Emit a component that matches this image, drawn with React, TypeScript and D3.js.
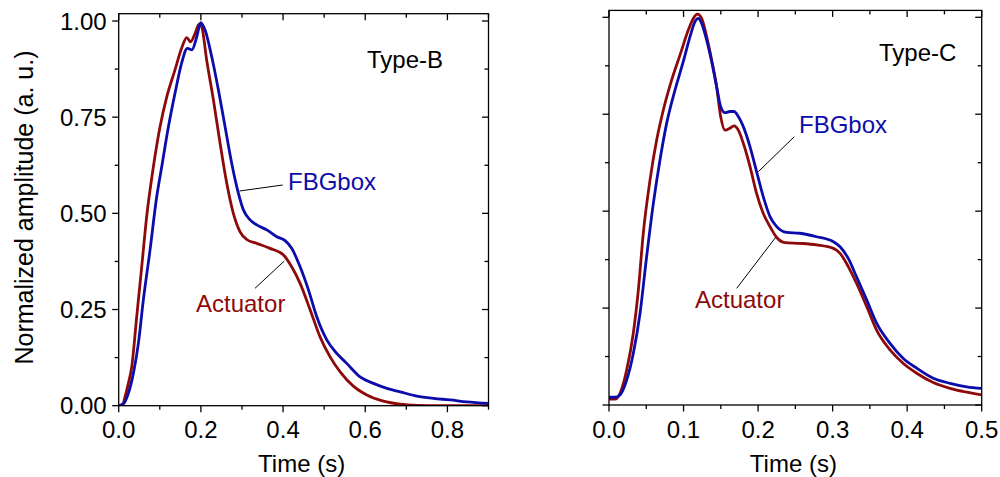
import React from "react";
import * as d3 from "d3";

// ---- Data ----
// Panel B (Type-B)
const tB_act = [0, 0.01, 0.0154, 0.0235, 0.0317, 0.0438, 0.056, 0.068, 0.0844, 0.1006, 0.117, 0.137, 0.153, 0.1655, 0.175, 0.186, 0.1956, 0.202, 0.214, 0.2305, 0.2467, 0.263, 0.279, 0.2954, 0.3116, 0.336, 0.368, 0.401, 0.421, 0.4415, 0.466, 0.49, 0.5145, 0.539, 0.571, 0.604, 0.644, 0.685, 0.7255, 0.78, 0.9];
const vB_act = [0, 0.004, 0.023, 0.058, 0.101, 0.231, 0.361, 0.491, 0.621, 0.725, 0.803, 0.873, 0.929, 0.957, 0.946, 0.968, 0.992, 0.985, 0.899, 0.795, 0.682, 0.578, 0.5, 0.452, 0.432, 0.422, 0.409, 0.392, 0.361, 0.318, 0.249, 0.179, 0.127, 0.088, 0.051, 0.028, 0.012, 0.004, 0.001, 0, 0];
const tB_fbg = [0, 0.011, 0.0235, 0.0357, 0.0479, 0.06, 0.0763, 0.0925, 0.1047, 0.121, 0.137, 0.153, 0.167, 0.178, 0.19, 0.1996, 0.21, 0.2264, 0.2426, 0.2589, 0.275, 0.2913, 0.3035, 0.3197, 0.336, 0.3603, 0.3847, 0.405, 0.421, 0.4415, 0.4618, 0.482, 0.5064, 0.5307, 0.555, 0.5875, 0.62, 0.6525, 0.685, 0.7255, 0.766, 0.8067, 0.847, 0.9];
const vB_fbg = [0, 0.004, 0.032, 0.084, 0.162, 0.275, 0.405, 0.543, 0.621, 0.725, 0.812, 0.89, 0.929, 0.925, 0.959, 0.996, 0.977, 0.907, 0.821, 0.725, 0.63, 0.552, 0.509, 0.483, 0.47, 0.457, 0.439, 0.429, 0.409, 0.361, 0.301, 0.231, 0.171, 0.136, 0.11, 0.075, 0.058, 0.045, 0.036, 0.025, 0.019, 0.015, 0.01, 0.006];

// Panel C (Type-C)
const tC_act = [0, 0.008, 0.0148, 0.0237, 0.0326, 0.0394, 0.046, 0.055, 0.064, 0.0729, 0.084, 0.0953, 0.1064, 0.1131, 0.1185, 0.1243, 0.131, 0.1377, 0.1444, 0.1498, 0.1556, 0.1623, 0.1677, 0.1735, 0.1802, 0.1892, 0.198, 0.207, 0.216, 0.225, 0.236, 0.256, 0.2786, 0.301, 0.31, 0.321, 0.332, 0.3457, 0.359, 0.377, 0.3949, 0.4128, 0.435, 0.4575, 0.48, 0.5];
const vC_act = [0.015, 0.015, 0.03, 0.09, 0.185, 0.297, 0.443, 0.58, 0.684, 0.761, 0.838, 0.903, 0.967, 0.997, 1.008, 0.997, 0.95, 0.89, 0.821, 0.744, 0.709, 0.714, 0.72, 0.709, 0.675, 0.615, 0.546, 0.494, 0.46, 0.432, 0.419, 0.417, 0.413, 0.404, 0.391, 0.357, 0.314, 0.254, 0.193, 0.142, 0.107, 0.082, 0.058, 0.043, 0.033, 0.026];
const tC_fbg = [0, 0.008, 0.0148, 0.0237, 0.0326, 0.0416, 0.0505, 0.0595, 0.0684, 0.0774, 0.0885, 0.0997, 0.1087, 0.1154, 0.1198, 0.1243, 0.131, 0.1377, 0.1444, 0.1498, 0.1556, 0.1623, 0.1677, 0.1735, 0.1802, 0.1892, 0.198, 0.207, 0.216, 0.225, 0.2384, 0.256, 0.2786, 0.301, 0.31, 0.321, 0.332, 0.3457, 0.359, 0.377, 0.3949, 0.4128, 0.435, 0.4575, 0.48, 0.5];
const vC_fbg = [0.02, 0.02, 0.026, 0.064, 0.133, 0.236, 0.383, 0.52, 0.632, 0.727, 0.812, 0.886, 0.95, 0.989, 0.997, 0.984, 0.941, 0.886, 0.821, 0.77, 0.754, 0.757, 0.757, 0.744, 0.718, 0.666, 0.602, 0.537, 0.486, 0.46, 0.445, 0.443, 0.434, 0.421, 0.408, 0.378, 0.331, 0.271, 0.211, 0.159, 0.12, 0.095, 0.069, 0.056, 0.047, 0.043];

const yTicks = [0, 0.25, 0.5, 0.75, 1.0];
const yMinor = [0.125, 0.375, 0.625, 0.875];
const xTicksB = [0, 0.2, 0.4, 0.6, 0.8];
const xMinorB = [0.1, 0.3, 0.5, 0.7, 0.9];
const xTicksC = [0, 0.1, 0.2, 0.3, 0.4, 0.5];
const xMinorC = [0.05, 0.15, 0.25, 0.35, 0.45];

const BLUE = "#0c0cab";
const RED = "#8e0a0a";
const FONT = "'Liberation Sans', Arial, Helvetica, sans-serif";
const FS = 24;

type Ann = {
  title: string;
  fbg: { x: number; y: number; lx1: number; ly1: number; lx2: number; ly2: number };
  act: { x: number; y: number; lx1: number; ly1: number; lx2: number; ly2: number };
  titlePos: { x: number; y: number };
};

function Panel(props: {
  x0: number; x1: number; yTop: number; yBottom: number; yOne: number;
  xMax: number; xTicks: number[]; xMinor: number[]; xFmt: (v: number) => string;
  showYLabels: boolean;
  ta: number[]; va: number[]; tf: number[]; vf: number[];
  ann: Ann;
}) {
  const p = props;
  const x = d3.scaleLinear().domain([0, p.xMax]).range([p.x0, p.x1]);
  const y = d3.scaleLinear().domain([0, 1]).range([p.yBottom, p.yOne]);
  const line = d3.line<[number, number]>().x((d) => x(d[0])).y((d) => y(d[1])).curve(d3.curveMonotoneX);
  const act = line(p.ta.map((t, i) => [t, p.va[i]] as [number, number])) || "";
  const fbg = line(p.tf.map((t, i) => [t, p.vf[i]] as [number, number])) || "";
  const MAJ = 6.5, MIN = 4;
  const clipId = "clip" + Math.round(p.x0);
  return (
    <g>
      <defs>
        <clipPath id={clipId}>
          <rect x={p.x0} y={p.yTop - 5} width={p.x1 - p.x0 + 1} height={p.yBottom - p.yTop + 5} />
        </clipPath>
      </defs>
      {/* curves */}
      <g clipPath={`url(#${clipId})`}>
        <path d={act} fill="none" stroke={RED} strokeWidth={2.8} strokeLinejoin="round" />
        <path d={fbg} fill="none" stroke={BLUE} strokeWidth={2.8} strokeLinejoin="round" />
      </g>
      {/* frame */}
      <rect x={p.x0} y={p.yTop} width={p.x1 - p.x0} height={p.yBottom - p.yTop} fill="none" stroke="#000" strokeWidth={1.3} />
      {/* bottom ticks (outward) and top ticks (inward) */}
      {p.xTicks.map((v) => (
        <g key={"xm" + v}>
          <line x1={x(v)} x2={x(v)} y1={p.yBottom} y2={p.yBottom + MAJ} stroke="#000" strokeWidth={1.3} />
          <line x1={x(v)} x2={x(v)} y1={p.yTop} y2={p.yTop + MAJ} stroke="#000" strokeWidth={1.3} />
          <text x={x(v)} y={437.5} textAnchor="middle" fontFamily={FONT} fontSize={FS}>{p.xFmt(v)}</text>
        </g>
      ))}
      {p.xMinor.map((v) => (
        <g key={"xn" + v}>
          <line x1={x(v)} x2={x(v)} y1={p.yBottom} y2={p.yBottom + MIN} stroke="#000" strokeWidth={1.3} />
          <line x1={x(v)} x2={x(v)} y1={p.yTop} y2={p.yTop + MIN} stroke="#000" strokeWidth={1.3} />
        </g>
      ))}
      {yTicks.map((v) => (
        <g key={"ym" + v}>
          <line x1={p.x0 - MAJ} x2={p.x0} y1={y(v)} y2={y(v)} stroke="#000" strokeWidth={1.3} />
          <line x1={p.x1 - MAJ} x2={p.x1} y1={y(v)} y2={y(v)} stroke="#000" strokeWidth={1.3} />
          {p.showYLabels && (
            <text x={p.x0 - 12} y={y(v)} dy="0.36em" textAnchor="end" fontFamily={FONT} fontSize={FS}>{v.toFixed(2)}</text>
          )}
        </g>
      ))}
      {yMinor.map((v) => (
        <g key={"yn" + v}>
          <line x1={p.x0 - MIN} x2={p.x0} y1={y(v)} y2={y(v)} stroke="#000" strokeWidth={1.3} />
          <line x1={p.x1 - MIN} x2={p.x1} y1={y(v)} y2={y(v)} stroke="#000" strokeWidth={1.3} />
        </g>
      ))}
      <text x={(p.x0 + p.x1) / 2 - 2} y={472} textAnchor="middle" fontFamily={FONT} fontSize={FS}>Time (s)</text>
      {/* annotations */}
      <text x={p.ann.titlePos.x} y={p.ann.titlePos.y} fontFamily={FONT} fontSize={FS}>{p.ann.title}</text>
      <line x1={p.ann.fbg.lx1} y1={p.ann.fbg.ly1} x2={p.ann.fbg.lx2} y2={p.ann.fbg.ly2} stroke="#000" strokeWidth={1} />
      <text x={p.ann.fbg.x} y={p.ann.fbg.y} fontFamily={FONT} fontSize={FS} fill={BLUE}>FBGbox</text>
      <line x1={p.ann.act.lx1} y1={p.ann.act.ly1} x2={p.ann.act.lx2} y2={p.ann.act.ly2} stroke="#000" strokeWidth={1} />
      <text x={p.ann.act.x} y={p.ann.act.y} fontFamily={FONT} fontSize={FS} fill={RED}>Actuator</text>
    </g>
  );
}

export default function App() {
  return (
    <svg width={1000} height={477} style={{ position: "absolute", left: 0, top: 0, background: "#fff" }}>
      <rect x={0} y={0} width={1000} height={477} fill="#fff" />
      <Panel
        x0={118.7} x1={488.5} yTop={13.7} yBottom={405.7} yOne={21}
        xMax={0.9} xTicks={xTicksB} xMinor={xMinorB} xFmt={(v) => v.toFixed(1)}
        showYLabels={true}
        ta={tB_act} va={vB_act} tf={tB_fbg} vf={vB_fbg}
        ann={{
          title: "Type-B", titlePos: { x: 367, y: 67.5 },
          fbg: { x: 288, y: 190, lx1: 239.5, ly1: 191, lx2: 282.7, ly2: 185 },
          act: { x: 196, y: 311.5, lx1: 255, ly1: 288.3, lx2: 284.3, ly2: 261 },
        }}
      />
      <Panel
        x0={609} x1={981.7} yTop={10.4} yBottom={405} yOne={17.3}
        xMax={0.5} xTicks={xTicksC} xMinor={xMinorC} xFmt={(v) => v.toFixed(1)}
        showYLabels={false}
        ta={tC_act} va={vC_act} tf={tC_fbg} vf={vC_fbg}
        ann={{
          title: "Type-C", titlePos: { x: 879, y: 61 },
          fbg: { x: 799, y: 133.3, lx1: 758.3, ly1: 171.7, lx2: 794.3, ly2: 136.7 },
          act: { x: 695, y: 308.3, lx1: 736.7, ly1: 288.3, lx2: 775.7, ly2: 237.3 },
        }}
      />
      <text transform="translate(33,207.5) rotate(-90)" textAnchor="middle" fontFamily={FONT} fontSize={25}>
        Normalized amplitude (a. u.)
      </text>
    </svg>
  );
}
